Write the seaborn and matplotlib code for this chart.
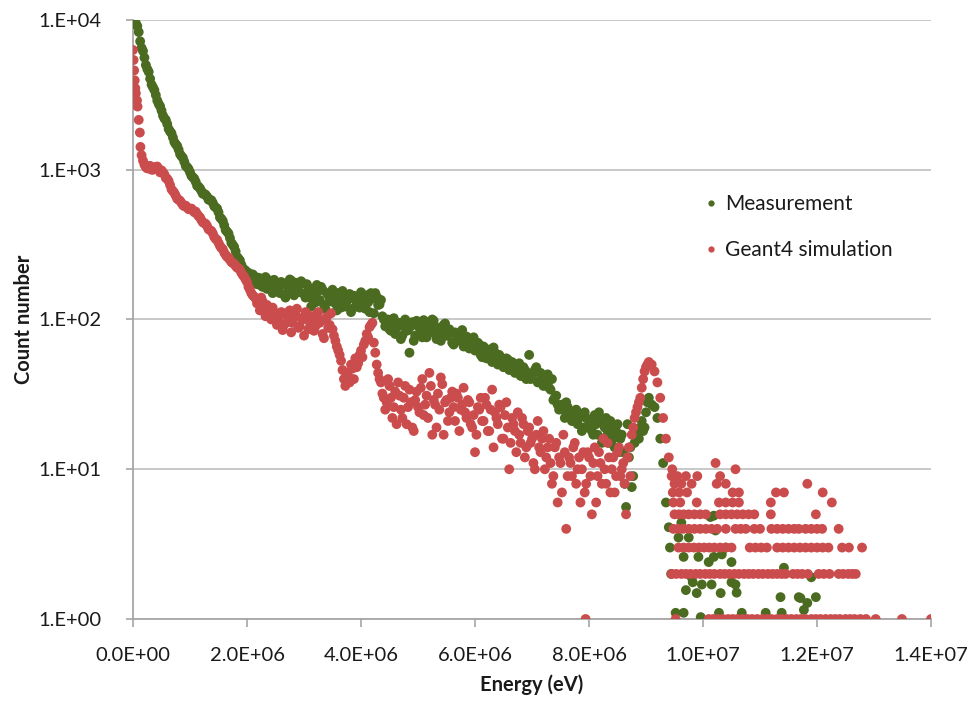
import numpy as np
import pandas as pd
import matplotlib
matplotlib.use("Agg")
import matplotlib.pyplot as plt
from matplotlib.ticker import FuncFormatter, FixedLocator, NullLocator
import seaborn as sns

# ---------------------------------------------------------------------------
# Spectrum data (energies in MeV, counts per bin)
# Regular bins are 0.05 MeV wide; the "mid" lists hold the bins that sit
# half a step further along, so together they form a 0.025 MeV grid.
# ---------------------------------------------------------------------------
BIN_MEV = 0.05

# Measurement: regular bins starting at 0.05 MeV
meas_start_mev = 0.05
meas_counts = [
    9500, 8300, 6500, 5600, 4700, 4050, 3550, 3150, 2750, 2480,
    2200, 2020, 1800, 1640, 1480, 1360, 1230, 1130, 1040, 960,
    890, 830, 770, 720, 690, 660, 630, 600, 560, 520,
    470, 425, 385, 350, 315, 285, 255, 232, 215, 205,
    195, 200, 178, 190, 168, 185, 160, 182, 150, 175,
    158, 178, 146, 170, 185, 150, 176, 155, 180, 148,
    172, 140, 160, 130, 155, 165, 125, 150, 138, 158,
    128, 150, 120, 145, 132, 148, 118, 140, 126, 152,
    122, 145, 112, 138, 150, 125, 135, 100, 96, 86,
    98, 80, 94, 74, 90, 84, 60, 96, 78, 92,
    82, 99, 76, 90, 100, 80, 88, 72, 92, 78,
    86, 70, 82, 74, 80, 66, 77, 64, 72, 62,
    70, 58, 66, 55, 63, 52, 60, 50, 56, 48,
    55, 46, 52, 44, 50, 42, 48, 40, 58, 43,
    46, 38, 44, 36, 42, 35, 40, 30, 27, 26,
    25, 28, 23, 21, 24, 20, 23, 19, 22, 20,
    18, 23, 17, 21, 16, 22, 15, 19, 14, 20,
    16, 13, 5.6, 12, 7.6, 15, 17, 19, 18, 24,
    30, 27, 26, 22, 16, 11, 6,
]

# Measurement: intermediate bins starting at 0.075 MeV
meas_mid_start_mev = 0.075
meas_mid_counts = [
    9100, 7200, 6200, 5000, 4500, 3700, 3400, 2900, 2650, 2300,
    2150, 1870, 1750, 1530, 1440, 1270, 1200, 1060, 1010, 910,
    870, 780, 750, 690, 680, 630, 625, 570, 550, 480,
    455, 395, 375, 325, 305, 262, 248, 220, 212,
    205, 180, 195, 172, 188, 165, 192, 176, 170, 184,
    162, 150, 172, 140, 160, 182, 145, 168, 152, 175,
    140, 162, 122, 150, 170, 135, 158, 118, 146, 132,
    145, 115, 138, 155, 122, 136, 112, 144, 130, 120,
    140, 118, 130, 150, 110, 142, 126, 105, 90, 100,
    84, 102, 88, 95, 78, 100, 85, 90, 72, 98,
    88, 76, 95, 84, 90, 98, 74, 86, 80, 94,
    78, 82, 68, 79, 72, 85, 70, 74, 66, 76,
    64, 68, 56, 62, 60, 54, 65, 52, 58, 55,
    50, 54, 47, 49, 45, 51, 42, 46, 44, 40,
    44, 48, 39, 41, 37, 43, 34, 29, 31, 25,
    27, 22, 26, 24, 21, 25, 22, 18, 24, 19,
    21, 17, 20, 24, 15, 19, 17, 21, 16, 18,
    13, 17, 8, 20, 14, 9, 18, 16, 21, 19,
    28,
]

# Measurement: sparse high-energy tail
meas_tail_mev = [
    9.40, 9.42, 9.44, 9.52, 9.57, 9.62, 9.66, 9.66, 9.70, 9.75,
    9.80, 9.82, 9.89, 9.92, 9.96, 9.98, 10.10, 10.13, 10.15, 10.19,
    10.19, 10.22, 10.28, 10.31, 10.33, 10.40, 10.50, 10.50, 10.57, 10.59,
    10.68, 11.10, 11.36, 11.38, 11.42, 11.68, 11.71, 11.77, 11.83, 11.90,
    11.98,
]
meas_tail_counts = [
    4.1, 3.0, 2.0, 1.1, 3.5, 4.4, 2.6, 1.1, 1.56, 3.5,
    1.9, 1.76, 1.49, 2.6, 1.03, 1.7, 2.4, 4.8, 1.7, 4.9,
    2.6, 3.9, 1.1, 1.49, 2.7, 3.0, 2.4, 1.76, 1.7, 1.5,
    1.1, 1.1, 1.4, 1.1, 2.2, 1.4, 1.38, 1.15, 1.28, 1.9,
    1.4,
]

# Geant4 simulation: lowest-energy bins
sim_low_mev = [0.00, 0.01, 0.02, 0.03, 0.04, 0.05, 0.07, 0.08, 0.10, 0.12, 0.13]
sim_low_counts = [6300, 5400, 4600, 3950, 3500, 3240, 2900, 2640, 2150, 1770, 1420]

# Geant4 simulation: regular bins starting at 0.15 MeV
sim_start_mev = 0.15
sim_counts = [
    1250, 1080, 1020, 1060, 1000, 1045, 1010, 990, 930, 870,
    790, 720, 670, 630, 600, 570, 560, 545, 535, 525,
    490, 460, 440, 420, 395, 375, 345, 325, 300, 280,
    262, 250, 238, 228, 220, 205, 193, 178, 158, 145,
    138, 132, 140, 118, 125, 110, 120, 105, 98, 112,
    92, 105, 115, 95, 108, 88, 102, 78, 110, 96,
    105, 90, 112, 98, 75, 104, 92, 86, 72, 62,
    53, 40, 44, 38, 47, 55, 51, 62, 68, 80,
    89, 95, 60, 44, 38, 30, 28, 36, 22, 33,
    38, 25, 30, 20, 34, 19, 29, 26, 35, 23,
    31, 44, 17, 27, 32, 41, 17, 29, 24, 33,
    21, 30, 25, 35, 22, 28, 19, 13, 26, 30,
    21, 27, 18, 34, 24, 20, 26, 16, 28, 10,
    22, 18, 24, 15, 20, 14, 19, 16, 10, 21,
    13, 18, 12, 16, 8, 14, 6, 11, 17, 4,
    12, 9, 15, 10, 6, 13, 8, 12, 5, 14,
    9, 11, 16, 8, 12, 10, 7, 13, 9, 11,
    5, 14, 17, 22, 26, 30, 40, 48, 52, 50,
    45, 38, 30, 22, 16, 12, 9,
]

# Geant4 simulation: intermediate bins starting at 0.175 MeV
sim_mid_start_mev = 0.175
sim_mid_counts = [
    1150, 1040, 1060, 1000, 1030, 1050, 960, 960, 880, 840,
    740, 700, 640, 620, 580, 575, 545, 550, 520, 505,
    480, 445, 435, 400, 390, 355, 340, 310, 295, 270,
    258, 242, 235, 222, 215, 198, 185, 165, 150, 142,
    128, 115, 132, 105, 118, 100, 112, 92, 108, 85,
    110, 96, 82, 104, 118, 90, 100, 112, 86, 98,
    84, 108, 95, 80, 100, 88, 110, 78, 66, 58,
    46, 36, 42, 50, 40, 48, 58, 56, 72, 76,
    92, 70, 50, 40, 32, 25, 40, 30, 26, 20,
    31, 22, 36, 26, 28, 18, 33, 24, 40, 27,
    22, 36, 29, 19, 25, 37, 28, 21, 30, 26,
    32, 18, 27, 24, 29, 20, 23, 17, 25, 21,
    30, 18, 25, 14, 22, 27, 16, 23, 19, 15,
    20, 13, 17, 22, 12, 18, 15, 11, 17, 14,
    16, 10, 14, 11, 9, 15, 12, 7, 13, 9,
    11, 14, 8, 12, 10, 7, 13, 9, 11, 6,
    13, 8, 10, 15, 7, 12, 9, 14, 10, 8,
    12, 9, 19, 24, 28, 35, 45, 50,
]

# Geant4 simulation: high-energy tail, energies of bins holding 1..11 counts
sim_tail_1 = [7.94, 9.52, 10.10, 10.18, 10.26, 10.35, 10.44, 10.52, 10.60, 10.70,
              10.78, 10.86, 10.95, 11.04, 11.12, 11.20, 11.30, 11.38, 11.47, 11.55,
              11.64, 11.72, 11.80, 11.90, 11.98, 12.06, 12.15, 12.24, 12.32, 12.40,
              12.50, 12.58, 12.66, 12.76, 12.86, 13.03, 13.49, 14.00]
sim_tail_2 = [9.45, 9.53, 9.62, 9.70, 9.78, 9.87, 9.95, 10.04, 10.12, 10.20,
              10.30, 10.38, 10.46, 10.55, 10.63, 10.72, 10.80, 10.88, 10.97, 11.05,
              11.14, 11.22, 11.30, 11.38, 11.45, 11.58, 11.66, 11.74, 11.84, 12.03,
              12.12, 12.22, 12.38, 12.46, 12.55, 12.62, 12.68]
sim_tail_3 = [9.57, 9.66, 9.75, 9.84, 9.93, 10.02, 10.11, 10.20, 10.30, 10.40,
              10.50, 10.82, 10.92, 11.02, 11.12, 11.30, 11.40, 11.50, 11.60, 11.70,
              11.80, 11.90, 12.00, 12.10, 12.20, 12.44, 12.56, 12.79]
sim_tail_4 = [9.48, 9.56, 9.65, 9.75, 9.85, 9.95, 10.05, 10.15, 10.25, 10.40,
              10.57, 10.66, 10.75, 10.90, 11.00, 11.20, 11.30, 11.40, 11.50, 11.60,
              11.68, 11.80, 11.90, 12.00, 12.09, 12.38]
sim_tail_5 = [9.50, 9.58, 9.66, 9.75, 9.85, 9.95, 10.05, 10.30, 10.40, 10.50,
              10.60, 10.70, 10.80, 10.90, 11.19, 11.98]
sim_tail_6 = [9.48, 9.60, 9.89, 10.28, 10.40, 10.52, 10.63, 11.19, 12.26]
sim_tail_7 = [9.47, 9.58, 9.72, 10.52, 10.63, 11.28, 11.42, 12.10]
sim_tail_8 = [9.50, 9.62, 9.80, 10.24, 10.40, 11.83]
sim_tail_9 = [9.55, 9.70, 9.90, 10.30]
sim_tail_10 = [9.46, 10.57]
sim_tail_11 = [10.22]

series_names = ["Measurement", "Geant4 simulation"]
series_colors = ["#4B6B21", "#CB4C4C"]

x_ticks_ev = [0, 2e6, 4e6, 6e6, 8e6, 1e7, 1.2e7, 1.4e7]
y_ticks = [1, 10, 100, 1000, 10000]

# ---------------------------------------------------------------------------
# Assemble a tidy table
# ---------------------------------------------------------------------------
def grid_energies(start, n):
    return start + BIN_MEV * np.arange(n)

meas_e = np.concatenate([grid_energies(meas_start_mev, len(meas_counts)),
                         grid_energies(meas_mid_start_mev, len(meas_mid_counts)),
                         meas_tail_mev])
meas_n = np.concatenate([meas_counts, meas_mid_counts, meas_tail_counts])

tail_levels = [sim_tail_1, sim_tail_2, sim_tail_3, sim_tail_4, sim_tail_5, sim_tail_6,
               sim_tail_7, sim_tail_8, sim_tail_9, sim_tail_10, sim_tail_11]
tail_e = np.concatenate(tail_levels)
tail_n = np.concatenate([[k + 1] * len(v) for k, v in enumerate(tail_levels)])

sim_e = np.concatenate([sim_low_mev,
                        grid_energies(sim_start_mev, len(sim_counts)),
                        grid_energies(sim_mid_start_mev, len(sim_mid_counts)),
                        tail_e])
sim_n = np.concatenate([sim_low_counts, sim_counts, sim_mid_counts, tail_n])

df = pd.concat([
    pd.DataFrame({"energy": meas_e * 1e6, "counts": meas_n, "series": series_names[0]}),
    pd.DataFrame({"energy": sim_e * 1e6, "counts": sim_n, "series": series_names[1]}),
], ignore_index=True)
df = df[df["counts"] > 0]

# ---------------------------------------------------------------------------
# Figure
# ---------------------------------------------------------------------------
sns.set_theme(style="white")
plt.rcParams["font.family"] = ["Lato", "DejaVu Sans"]

fig = plt.figure(figsize=(9.71, 7.04), dpi=100)
ax = fig.add_axes([0.137, 0.1207, 0.8218, 0.851])

sns.scatterplot(data=df, x="energy", y="counts", hue="series",
                hue_order=series_names, palette=series_colors,
                s=50, linewidth=0, alpha=1.0, ax=ax, legend=False, zorder=3)

ax.set_yscale("log")
ax.set_xlim(0, 1.4e7)
ax.set_ylim(1, 1e4)

ax.xaxis.set_major_locator(FixedLocator(x_ticks_ev))
ax.yaxis.set_major_locator(FixedLocator(y_ticks))
ax.yaxis.set_minor_locator(NullLocator())
ax.xaxis.set_minor_locator(NullLocator())
ax.xaxis.set_major_formatter(FuncFormatter(lambda v, p: f"{v:.1E}"))
ax.yaxis.set_major_formatter(FuncFormatter(lambda v, p: f"1.E+{int(round(np.log10(v))):02d}"))

ax.grid(axis="y", color="#c4c4c4", linewidth=1.3, zorder=0)
ax.grid(axis="x", visible=False)
ax.set_axisbelow(True)

for side in ["top", "right"]:
    ax.spines[side].set_visible(False)
for side in ["left", "bottom"]:
    ax.spines[side].set_color("#a6a6a6")
    ax.spines[side].set_linewidth(1.3)

ax.tick_params(axis="x", which="major", length=6, width=1.2, color="#a6a6a6",
               pad=14, labelsize=14.5, labelcolor="#1a1a1a", direction="out", bottom=True)
ax.tick_params(axis="y", which="major", length=5, width=1.2, color="#a6a6a6",
               pad=18, labelsize=14.5, labelcolor="#1a1a1a", direction="out", left=True)

ax.set_xlabel("Energy (eV)", fontsize=14.5, fontweight="bold", color="#1a1a1a", labelpad=8)
ax.set_ylabel("Count number", fontsize=14.5, fontweight="bold", color="#1a1a1a", labelpad=3)

handles = [plt.Line2D([], [], marker="o", linestyle="", markersize=4.5,
                      markerfacecolor=c, markeredgewidth=0) for c in series_colors]
ax.legend(handles, series_names, loc="upper left", bbox_to_anchor=(0.69, 0.74),
          frameon=False, fontsize=15, handletextpad=0.3, handlelength=0.8,
          labelspacing=1.25, labelcolor="#1a1a1a")

fig.savefig("out.png", dpi=100, facecolor="white")
